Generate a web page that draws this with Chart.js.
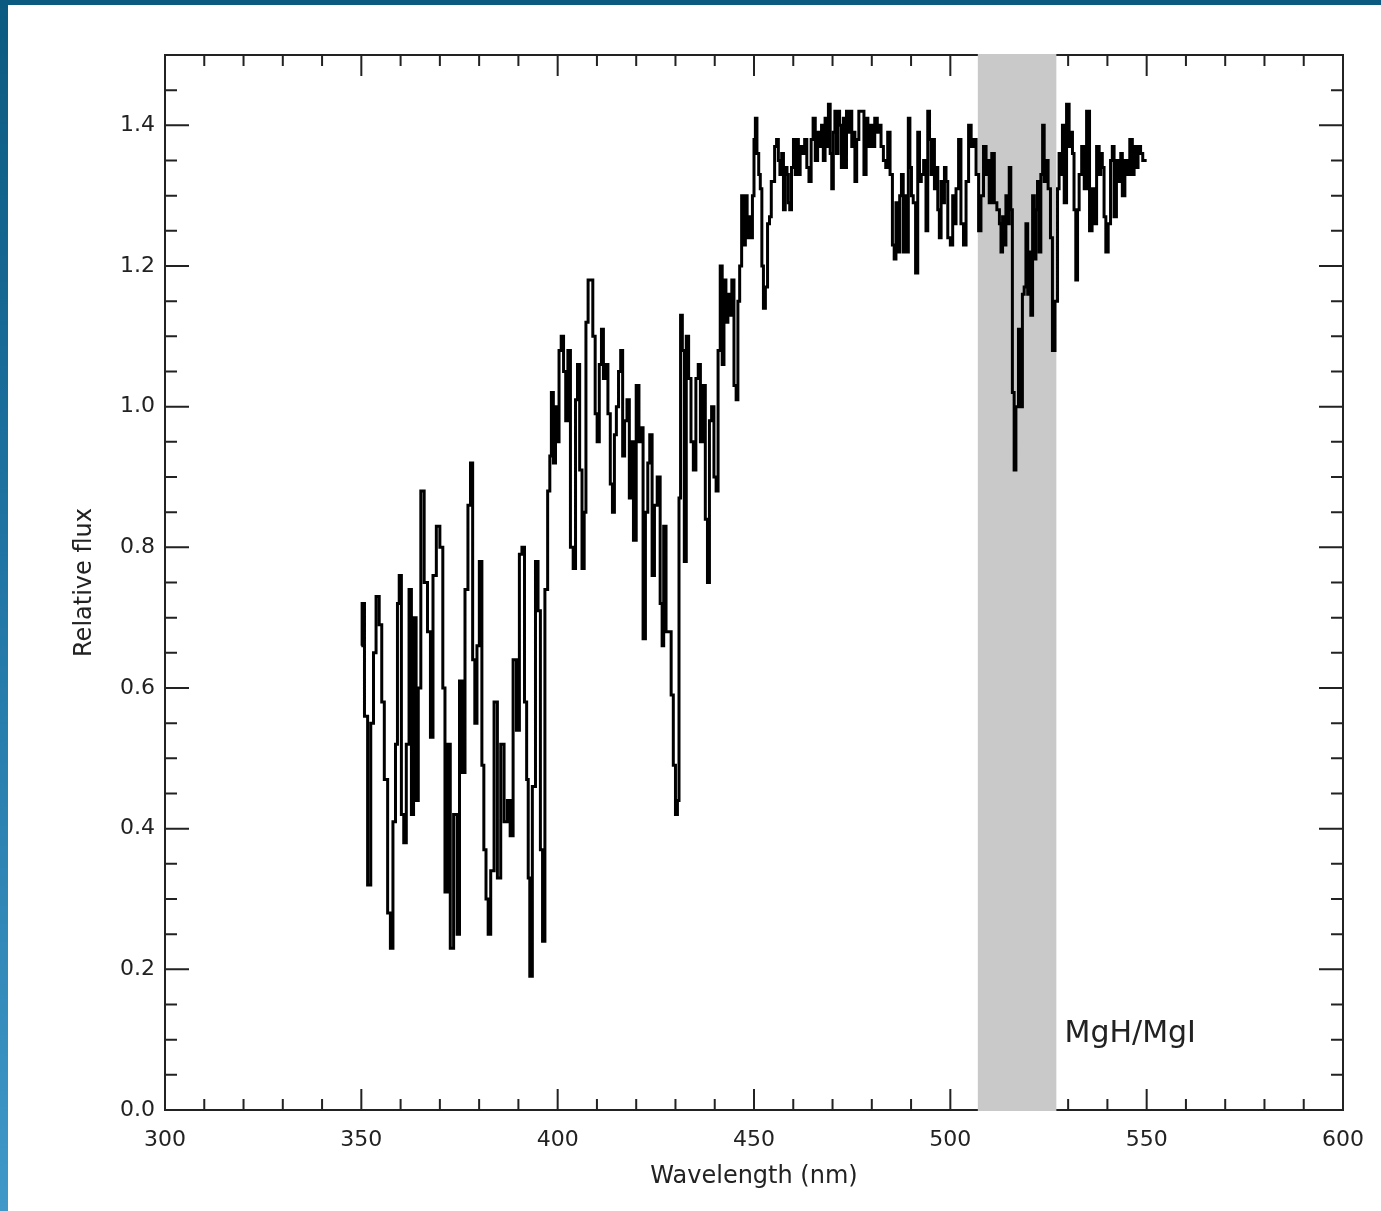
<!DOCTYPE html>
<html>
<head>
<meta charset="utf-8">
<title>Relative flux</title>
<script src="https://cdn.jsdelivr.net/npm/chart.js@4.4.1/dist/chart.umd.min.js"></script>
<style>
  html, body { margin: 0; padding: 0; overflow: hidden; }
  body { width: 1381px; height: 1211px; background: linear-gradient(180deg, #0b5a80 0%, #1f74a3 45%, #3f98c8 100%); }
  #panel { position: absolute; left: 8px; top: 5px; right: 0; bottom: 0; background: #ffffff; }
  #caja { position: absolute; left: 0; top: 0; width: 1381px; height: 1211px; }
</style>
</head>
<body>
<div id="panel"></div>
<div id="caja"><canvas id="grafica"></canvas></div>
<script>
//datos del espectro
const longitudes = [
  350.0,350.4,351.2,352.0,352.8,353.4,354.1,355.0,355.4,356.3,357.1,357.7,358.4,359.0,359.4,359.9,360.5,361.1,361.8,362.5,
  363.0,363.6,364.3,364.7,365.6,366.4,367.3,367.9,368.6,369.6,370.4,371.1,371.5,372.4,372.9,374.1,374.7,375.3,376.0,376.8,
  377.5,378.1,378.6,379.2,379.7,380.4,381.0,381.4,382.1,382.5,383.4,384.2,385.1,385.9,386.8,387.6,388.2,389.1,389.9,390.6,
  391.2,391.9,392.3,392.7,393.1,394.0,394.7,395.3,395.9,396.4,397.1,397.8,398.2,
  398.6,399.2,399.7,400.1,400.6,401.2,401.8,402.3,402.9,403.6,404.3,404.8,405.3,405.9,406.5,407.0,407.4,408.1,408.6,409.3,
  409.8,410.3,410.9,411.4,411.9,412.5,413.1,413.7,414.2,414.7,415.2,415.8,416.3,416.8,417.3,418.0,418.5,419.0,419.6,420.4,
  421.0,421.5,422.0,422.7,423.2,423.7,424.4,424.9,425.8,426.4,426.8,427.2,428.0,428.6,429.2,429.7,430.3,430.7,431.1,431.5,
  432.0,432.5,433.0,433.7,434.2,434.9,435.5,436.1,436.6,437.3,437.9,438.4,438.9,439.5,440.1,440.6,441.1,441.7,442.1,442.6,
  443.1,443.6,444.1,444.6,445.2,445.7,446.1,446.6,447.1,
  447.6,448.0,448.5,449.0,449.4,449.8,450.2,450.5,451.0,451.4,451.8,452.2,452.6,453.2,453.7,454.2,454.6,455.0,455.5,456.0,
  456.4,456.8,457.3,457.7,458.2,458.6,458.9,459.3,459.8,460.3,460.7,461.1,461.5,462.0,462.6,463.2,463.7,464.3,464.8,465.3,
  465.9,466.5,467.0,467.4,467.9,468.3,468.7,469.2,469.6,470.0,470.4,470.8,471.2,471.6,472.0,472.5,473.0,473.4,473.7,474.2,
  474.7,475.1,475.5,475.9,476.4,477.0,477.6,478.4,478.7,479.3,479.8,480.5,481.0,481.8,482.1,482.6,483.3,483.8,484.3,485.0,
  485.5,485.9,486.4,486.9,487.3,487.8,488.2,488.6,489.1,489.5,489.9,490.3,490.8,491.5,491.9,492.4,492.8,493.6,494.0,494.5,
  494.9,495.3,495.7,496.2,496.6,497.0,497.4,497.9,498.3,498.7,499.1,499.6,500.4,500.8,501.2,501.7,502.5,502.9,503.8,504.2,
  505.1,505.5,506.3,506.8,507.6,508.0,508.9,509.3,509.7,510.1,511.0,511.4,512.3,512.7,513.1,513.5,513.9,514.4,514.8,515.2,
  515.6,516.0,516.5,516.9,517.8,518.1,518.6,519.0,519.5,519.9,520.3,520.7,521.2,521.6,522.0,522.4,522.8,523.3,523.7,524.1,
  524.6,525.2,525.8,526.2,527.1,527.5,527.9,528.3,528.8,529.2,530.0,530.5,530.9,531.3,531.7,532.2,532.6,533.0,533.9,534.3,
  535.1,535.8,536.4,536.8,537.7,538.1,538.5,538.9,539.4,539.8,540.6,541.0,541.5,541.9,542.7,543.2,543.6,544.0,544.9,545.3,
  546.1,546.6,547.0,547.4,548.2,548.7,549.3,550.0
];
const flujo = [
  0.66,0.72,0.56,0.32,0.55,0.65,0.73,0.69,0.58,0.47,0.28,0.23,0.41,0.52,0.72,0.76,0.42,0.38,0.52,0.74,
  0.42,0.70,0.44,0.60,0.88,0.75,0.68,0.53,0.76,0.83,0.80,0.60,0.31,0.52,0.23,0.42,0.25,0.61,0.48,0.74,
  0.86,0.92,0.64,0.55,0.66,0.78,0.49,0.37,0.30,0.25,0.34,0.58,0.33,0.52,0.41,0.44,0.39,0.64,0.54,0.79,
  0.80,0.58,0.47,0.33,0.19,0.46,0.78,0.71,0.37,0.24,0.74,0.88,0.93,
  1.02,0.92,1.00,0.95,1.08,1.10,1.05,0.98,1.08,0.80,0.77,1.01,1.06,0.91,0.77,0.85,1.12,1.18,1.18,1.10,
  0.99,0.95,1.06,1.11,1.04,1.06,0.99,0.89,0.85,0.96,1.00,1.05,1.08,0.93,0.98,1.01,0.87,0.95,0.81,1.03,
  0.95,0.97,0.67,0.85,0.92,0.96,0.76,0.86,0.90,0.72,0.66,0.83,0.68,0.68,0.59,0.49,0.42,0.44,0.87,1.13,
  1.08,0.78,1.10,1.04,0.95,0.91,1.04,1.06,0.95,1.03,0.84,0.75,0.98,1.00,0.90,0.88,1.08,1.20,1.06,1.18,
  1.12,1.16,1.13,1.18,1.03,1.01,1.15,1.20,1.30,
  1.23,1.30,1.24,1.27,1.24,1.30,1.38,1.41,1.36,1.33,1.31,1.20,1.14,1.17,1.26,1.27,1.32,1.32,1.37,1.38,
  1.35,1.33,1.36,1.28,1.34,1.33,1.29,1.28,1.34,1.38,1.33,1.38,1.33,1.37,1.36,1.38,1.34,1.32,1.38,1.41,
  1.35,1.39,1.37,1.40,1.35,1.41,1.37,1.43,1.36,1.31,1.39,1.42,1.36,1.42,1.40,1.34,1.41,1.34,1.42,1.39,
  1.42,1.37,1.39,1.32,1.38,1.42,1.42,1.33,1.41,1.37,1.40,1.37,1.41,1.39,1.40,1.37,1.35,1.34,1.39,1.33,
  1.23,1.21,1.29,1.22,1.30,1.33,1.22,1.30,1.22,1.41,1.34,1.30,1.29,1.19,1.39,1.32,1.33,1.35,1.25,1.42,
  1.38,1.33,1.38,1.31,1.34,1.28,1.24,1.32,1.29,1.34,1.32,1.24,1.23,1.30,1.26,1.31,1.38,1.26,1.23,1.32,
  1.40,1.37,1.38,1.33,1.25,1.30,1.37,1.33,1.35,1.29,1.36,1.29,1.28,1.26,1.22,1.27,1.23,1.30,1.26,1.34,
  1.28,1.02,0.91,1.00,1.11,1.00,1.16,1.17,1.26,1.16,1.22,1.13,1.30,1.21,1.28,1.32,1.22,1.33,1.40,1.32,
  1.35,1.31,1.24,1.08,1.15,1.31,1.36,1.33,1.40,1.29,1.43,1.37,1.39,1.36,1.28,1.18,1.28,1.33,1.37,1.31,
  1.42,1.25,1.31,1.26,1.37,1.33,1.36,1.34,1.27,1.22,1.26,1.35,1.37,1.27,1.35,1.32,1.36,1.30,1.35,1.33,
  1.38,1.33,1.37,1.34,1.37,1.36,1.35,1.35
];
//ejes y banda
const ticksX = [300, 350, 400, 450, 500, 550, 600];
const ticksY = [0.0, 0.2, 0.4, 0.6, 0.8, 1.0, 1.2, 1.4];
const bandaMg = [507, 527];
const etiquetaBanda = "MgH/MgI";

Chart.defaults.font.family = "'DejaVu Sans', sans-serif";
Chart.defaults.color = "#222";

//marcas hacia dentro, estilo IDL
const marcos = {
  id: 'marcos',
  beforeDatasetsDraw(chart) {
    const ctx = chart.ctx;
    const a = chart.chartArea;
    const x = chart.scales.x;
    const y = chart.scales.y;
    ctx.save();
    ctx.strokeStyle = "#222";
    ctx.lineWidth = 2;
    ctx.strokeRect(a.left, a.top, a.right - a.left, a.bottom - a.top);
    ctx.beginPath();
    for (let v = 300; v <= 600; v += 10) {
      const px = x.getPixelForValue(v);
      const largo = (v % 50 === 0) ? 21 : 11;
      ctx.moveTo(px, a.bottom); ctx.lineTo(px, a.bottom - largo);
      ctx.moveTo(px, a.top); ctx.lineTo(px, a.top + largo);
    }
    for (let i = 1; i < 30; i++) {
      const py = y.getPixelForValue(i * 0.05);
      const largo = (i % 4 === 0) ? 24 : 12;
      ctx.moveTo(a.left, py); ctx.lineTo(a.left + largo, py);
      ctx.moveTo(a.right, py); ctx.lineTo(a.right - largo, py);
    }
    ctx.stroke();
    //banda gris
    const x0 = x.getPixelForValue(bandaMg[0]);
    const x1 = x.getPixelForValue(bandaMg[1]);
    ctx.fillStyle = "#c9c9c9";
    ctx.fillRect(x0, a.top - 1, x1 - x0, a.bottom - a.top + 2);
    ctx.restore();
  },
  afterDatasetsDraw(chart) {
    const ctx = chart.ctx;
    ctx.save();
    ctx.font = "30px 'DejaVu Sans'";
    ctx.fillStyle = "#222";
    ctx.textBaseline = "alphabetic";
    ctx.fillText(etiquetaBanda, chart.scales.x.getPixelForValue(529.1), chart.scales.y.getPixelForValue(0.097));
    ctx.restore();
  }
};

const grafica = document.getElementById('grafica');

new Chart(grafica, {
  type: 'line',
  data: {
    datasets: [{
      label: 'Relative flux',
      data: longitudes.map((l, i) => ({x: l, y: flujo[i]})),
      borderColor: '#000',
      borderWidth: 3,
      pointRadius: 0,
      stepped: 'middle',
      fill: false
    }]
  },
  options: {
    responsive: true,
    maintainAspectRatio: false,
    animation: false,
    layout: { padding: { top: 55, right: 32, left: 0, bottom: 0 } },
    plugins: { legend: { display: false }, tooltip: { enabled: false } },
    scales: {
      x: {
        type: 'linear',
        min: 300,
        max: 600,
        afterBuildTicks: s => { s.ticks = ticksX.map(v => ({value: v})); },
        afterFit: s => { s.height = 101; },
        grid: { display: false, drawTicks: false, tickLength: 0 },
        border: { display: false },
        ticks: { padding: 17, font: { size: 22 }, maxRotation: 0, callback: v => String(v) },
        title: { display: true, text: 'Wavelength (nm)', font: { size: 24 }, padding: { top: 0, bottom: 20 } }
      },
      y: {
        type: 'linear',
        min: 0,
        max: 1.5,
        afterBuildTicks: s => { s.ticks = ticksY.map(v => ({value: v})); },
        afterFit: s => { s.width = 165; },
        grid: { display: false, drawTicks: false, tickLength: 0 },
        border: { display: false },
        ticks: { padding: 10, font: { size: 22 }, callback: v => v.toFixed(1) },
        title: { display: true, text: 'Relative flux', font: { size: 24 }, padding: { top: 70, bottom: 0 } }
      }
    }
  },
  plugins: [marcos]
});
</script>
</body>
</html>
